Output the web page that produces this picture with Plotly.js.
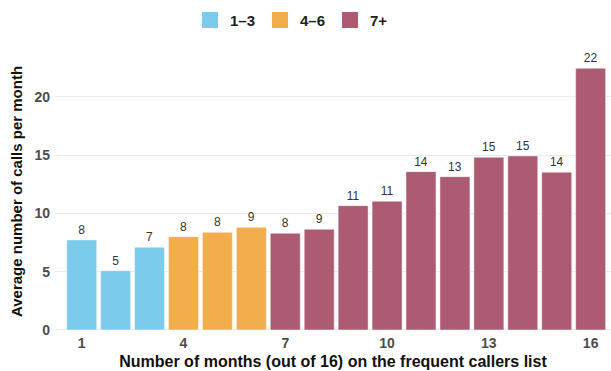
<!DOCTYPE html>
<html>
<head>
<meta charset="utf-8">
<script src="https://cdn.plot.ly/plotly-3.0.1.min.js"></script>
<style>html,body{margin:0;padding:0;background:#fff}#chart{width:611px;height:371px}</style>
</head>
<body>
<div id="chart"></div>
<script>
const months = [1,2,3,4,5,6,7,8,9,10,11,12,13,14,15,16];
const avgCalls = [7.73,5.09,7.1,8.01,8.38,8.81,8.3,8.64,10.67,11.05,13.59,13.16,14.82,14.94,13.54,22.46];
const groups = ["1–3","1–3","1–3","4–6","4–6","4–6","7+","7+","7+","7+","7+","7+","7+","7+","7+","7+"];
const groupNames = ["1–3","4–6","7+"];
const groupColors = ["#7BCBEC","#F2AE4C","#AD5B72"];
const xTicks = [1,4,7,10,13,16];
const yTicks = [0,5,10,15,20];

const FONT = 'Liberation Sans, Arial, sans-serif';
const traces = [];
groupNames.forEach((g,i) => {
  const xs = [], ys = [];
  months.forEach((m,j) => { if (groups[j] === g) { xs.push(m); ys.push(avgCalls[j]); } });
  traces.push({
    type: 'bar', name: g, x: xs, y: ys, showlegend: false, legendgroup: g,
    marker: {color: groupColors[i], line: {color: 'rgba(255,255,255,0.6)', width: 0.8}},
    texttemplate: '%{y:.0f}', textposition: 'outside', cliponaxis: false,
    textfont: {family: FONT, size: 12, color: '#333333'},
    outsidetextfont: {family: FONT, size: 12, color: '#333333'}
  });
});
groupNames.forEach((g,i) => {
  traces.push({
    type: 'scatter', mode: 'markers', name: g, legendgroup: g, x: [null], y: [null],
    marker: {symbol: 'square', size: 17, color: groupColors[i]}
  });
});

const layout = {
  width: 611, height: 371,
  margin: {l: 55, r: 0, t: 50, b: 38},
  paper_bgcolor: '#ffffff', plot_bgcolor: '#ffffff',
  barmode: 'overlay', bargap: 0.116,
  font: {family: FONT},
  showlegend: true,
  legend: {
    orientation: 'h', xref: 'container', yref: 'container',
    x: 0.477, xanchor: 'center', y: 0.99, yanchor: 'top',
    font: {size: 15, color: '#222222', family: FONT, weight: 'bold'},
    itemwidth: 30, traceorder: 'normal', tracegroupgap: 0
  },
  xaxis: {
    range: [0.213, 16.6], tickvals: xTicks, ticktext: xTicks.map(String),
    showgrid: false, zeroline: false, showline: false, ticks: '',
    tickfont: {size: 14, color: '#4d4d4d', weight: 'bold'},
    title: {text: 'Number of months (out of 16) on the frequent callers list', font: {size: 16, color: '#111111', weight: 'bold'}, standoff: 5}
  },
  yaxis: {
    range: [-0.26, 24.03], tickvals: yTicks, ticktext: yTicks.map(String),
    showgrid: true, gridcolor: '#ebebeb', gridwidth: 1, zeroline: false, showline: false, ticks: '',
    ticklabelstandoff: 4,
    tickfont: {size: 14, color: '#4d4d4d', weight: 'bold'},
    title: {text: 'Average number of calls per month', font: {size: 15, color: '#111111', weight: 'bold'}, standoff: 8}
  }
};

Plotly.newPlot('chart', traces, layout, {displayModeBar: false, staticPlot: true});
</script>
</body>
</html>
